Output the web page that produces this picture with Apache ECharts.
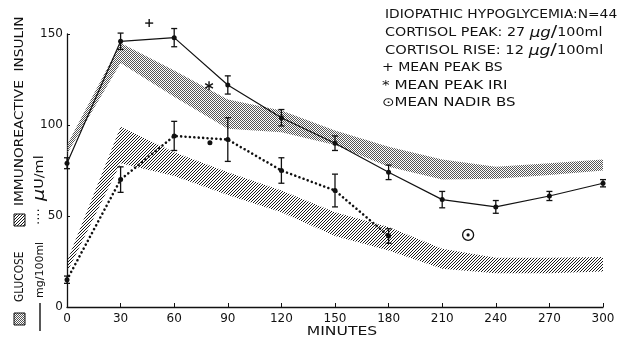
<!DOCTYPE html>
<html>
<head>
    <meta charset="utf-8">
    <title>Idiopathic hypoglycemia</title>
    <script src="https://cdn.jsdelivr.net/npm/echarts@6/dist/echarts.min.js"></script>
</head>
<body style="margin:0;background:#fff;">
    <div id="chart" style="width: 622px;height:341px;"></div>
    <script type="text/javascript">
        // minutes after glucose load
        var minutes = [0, 30, 60, 90, 120, 150, 180, 210, 240, 270, 300];
        var xTicks = ['0', '30', '60', '90', '120', '150', '180', '210', '240', '270', '300'];
        var yTicks = ['0', '50', '100', '150'];

        // glucose mg/100ml (solid line) and its normal range (stippled band)
        var glucoseMean = [79, 146, 148, 122, 104, 90, 74, 59, 55, 61, 68];
        var glucoseErr = [3, 4.5, 5, 5, 4.5, 4, 4, 4.5, 3.5, 2.5, 2];
        var glucoseBandLow = [84, 134, 115.5, 98, 96, 89, 77, 70, 70.5, 72.5, 75];
        var glucoseBandHigh = [89, 145, 130, 114, 108, 97, 88, 81, 77, 79, 81];

        // immunoreactive insulin µU/ml (dotted line) and its normal range (hatched band)
        var insulinMinutes = [0, 30, 60, 90, 120, 150, 180];
        var insulinMean = [15, 70, 94, 92, 75, 64, 39];
        var insulinErr = [2, 7, 8, 12, 7, 9, 4];
        var insulinBandLow = [19, 79, 72, 61.5, 52, 39, 31, 21, 18.5, 18.5, 19.5];
        var insulinBandHigh = [25, 99, 85, 74, 64, 52, 44, 32, 27, 27, 27.5];

        // special markers: + mean peak BS, * mean peak IRI, (.) mean nadir BS
        var markMinute = [46, 79.5, 224.5];
        var markValue = [156, 121.5, 39.6];
        var markKind = ['plus', 'star', 'nadir'];
        var strayDots = [[80, 90.3]];

        var ink = '#111';

        function makePattern(size, test, color) {
            var c = document.createElement('canvas');
            c.width = size; c.height = size;
            var ctx = c.getContext('2d');
            ctx.fillStyle = color;
            for (var i = 0; i < size; i++) {
                for (var j = 0; j < size; j++) {
                    if (test(i, j)) ctx.fillRect(i, j, 1, 1);
                }
            }
            return { image: c, repeat: 'repeat' };
        }
        var hatch = makePattern(3, function (i, j) { return (i + j) % 3 === 2; }, '#1a1a1a');
        var stipple = makePattern(2, function (i, j) { return (i + j) % 2 === 0; }, '#555');

        function pairs(xs, ys) {
            var out = [];
            for (var i = 0; i < ys.length; i++) out.push([xs[i], ys[i]]);
            return out;
        }
        function errRows(xs, ys, es) {
            var out = [];
            for (var i = 0; i < ys.length; i++) out.push([xs[i], ys[i] - es[i], ys[i] + es[i]]);
            return out;
        }

        function bandSeries(low, high, fill) {
            return {
                type: 'custom',
                z: 1,
                silent: true,
                data: [[0]],
                renderItem: function (params, api) {
                    var pts = [];
                    for (var i = 0; i < minutes.length; i++) pts.push(api.coord([minutes[i], high[i]]));
                    for (var k = minutes.length - 1; k >= 0; k--) pts.push(api.coord([minutes[k], low[k]]));
                    return { type: 'polygon', shape: { points: pts }, style: { fill: fill, stroke: null } };
                }
            };
        }

        function errorSeries(rows) {
            return {
                type: 'custom',
                z: 4,
                silent: true,
                data: rows,
                renderItem: function (params, api) {
                    var top = api.coord([api.value(0), api.value(2)]);
                    var bot = api.coord([api.value(0), api.value(1)]);
                    var st = { stroke: ink, lineWidth: 1.3 };
                    return {
                        type: 'group',
                        children: [
                            { type: 'line', shape: { x1: top[0], y1: top[1], x2: bot[0], y2: bot[1] }, style: st },
                            { type: 'line', shape: { x1: top[0] - 3, y1: top[1], x2: top[0] + 3, y2: top[1] }, style: st },
                            { type: 'line', shape: { x1: bot[0] - 3, y1: bot[1], x2: bot[0] + 3, y2: bot[1] }, style: st }
                        ]
                    };
                }
            };
        }

        var markRows = [];
        for (var m = 0; m < markMinute.length; m++) markRows.push([markMinute[m], markValue[m], m]);

        var muRich = {
            mu: { fontStyle: 'italic', fontSize: 14, fontFamily: 'DejaVu Sans' },
            sl: { fontSize: 16, fontFamily: 'DejaVu Sans' }
        };
        function note(x, y, text, sx) {
            return {
                type: 'text', x: x, y: y, scaleX: sx,
                style: { text: text, fill: ink, font: '12px DejaVu Sans', verticalAlign: 'middle', rich: muRich }
            };
        }
        function sideText(x, y, text, size, sx, rich) {
            return {
                type: 'text', x: x, y: y, rotation: Math.PI / 2, scaleX: sx,
                style: { text: text, fill: ink, font: size + 'px DejaVu Sans', align: 'left', verticalAlign: 'middle', rich: rich || {} }
            };
        }

        var chart = echarts.init(document.getElementById('chart'));
        var option = {
            backgroundColor: '#fff',
            animation: false,
            grid: { left: 67, right: 19, top: 34, bottom: 34 },
            xAxis: {
                type: 'value',
                min: 0, max: 300, interval: 30,
                axisLine: { lineStyle: { color: ink, width: 1.3 } },
                axisTick: { inside: true, length: 4, lineStyle: { color: ink } },
                splitLine: { show: false },
                axisLabel: {
                    color: ink, fontSize: 12, fontFamily: 'DejaVu Sans', margin: 6,
                    formatter: function (v) { return xTicks[minutes.indexOf(v)]; }
                }
            },
            yAxis: {
                type: 'value',
                min: 0, max: 150, interval: 50,
                axisLine: { show: true, lineStyle: { color: ink, width: 1.3 } },
                axisTick: { show: true, inside: true, length: 3, lineStyle: { color: ink } },
                splitLine: { show: false },
                axisLabel: {
                    color: ink, fontSize: 12, fontFamily: 'DejaVu Sans', margin: 4,
                    formatter: function (v) { return yTicks[v / 50]; }
                }
            },
            series: [
                bandSeries(glucoseBandLow, glucoseBandHigh, stipple),
                bandSeries(insulinBandLow, insulinBandHigh, hatch),
                {
                    name: 'GLUCOSE',
                    type: 'line',
                    z: 3,
                    data: pairs(minutes, glucoseMean),
                    symbol: 'circle', symbolSize: 5,
                    itemStyle: { color: ink },
                    lineStyle: { color: ink, width: 1.2 }
                },
                {
                    name: 'IMMUNOREACTIVE INSULIN',
                    type: 'line',
                    z: 3,
                    data: pairs(insulinMinutes, insulinMean),
                    symbol: 'circle', symbolSize: 5,
                    itemStyle: { color: ink },
                    lineStyle: { color: ink, width: 2.6, type: [0.01, 4.4], cap: 'round' }
                },
                errorSeries(errRows(minutes, glucoseMean, glucoseErr)),
                errorSeries(errRows(insulinMinutes, insulinMean, insulinErr)),
                {
                    type: 'scatter',
                    z: 3,
                    data: strayDots,
                    symbol: 'circle', symbolSize: 5,
                    itemStyle: { color: ink, opacity: 1 }
                },
                {
                    type: 'custom',
                    z: 5,
                    silent: true,
                    data: markRows,
                    renderItem: function (params, api) {
                        var p = api.coord([api.value(0), api.value(1)]);
                        var kind = markKind[api.value(2)];
                        var st = { stroke: ink, lineWidth: 1.4 };
                        var kids = [];
                        if (kind === 'plus') {
                            kids.push({ type: 'line', shape: { x1: p[0] - 4, y1: p[1], x2: p[0] + 4, y2: p[1] }, style: st });
                            kids.push({ type: 'line', shape: { x1: p[0], y1: p[1] - 4, x2: p[0], y2: p[1] + 4 }, style: st });
                        } else if (kind === 'star') {
                            for (var a = 0; a < 3; a++) {
                                var ang = Math.PI / 2 + a * Math.PI / 3;
                                var dx = Math.cos(ang) * 4.5, dy = Math.sin(ang) * 4.5;
                                kids.push({ type: 'line', shape: { x1: p[0] - dx, y1: p[1] - dy, x2: p[0] + dx, y2: p[1] + dy }, style: st });
                            }
                        } else {
                            kids.push({ type: 'circle', shape: { cx: p[0], cy: p[1], r: 5.5 }, style: { fill: '#fff', stroke: ink, lineWidth: 1.3 } });
                            kids.push({ type: 'circle', shape: { cx: p[0], cy: p[1], r: 1.6 }, style: { fill: ink } });
                        }
                        return { type: 'group', children: kids };
                    }
                }
            ],
            graphic: [
                // annotation block, upper right
                note(385, 15, 'IDIOPATHIC HYPOGLYCEMIA:N=44', 1.15),
                note(385, 33, 'CORTISOL PEAK: 27 {mu|μg}{sl|/}100ml', 1.19),
                note(385, 51, 'CORTISOL RISE: 12 {mu|μg}{sl|/}100ml', 1.22),
                note(382, 68, '+ MEAN PEAK BS', 1.17),
                note(382, 86, '* MEAN PEAK IRI', 1.27),
                note(382, 103, '⊙MEAN NADIR BS', 1.25),
                // x axis title
                { type: 'text', x: 342, y: 332, scaleX: 1.2, style: { text: 'MINUTES', fill: ink, font: '13px DejaVu Sans', align: 'center', verticalAlign: 'middle' } },
                // vertical axis titles, left side
                { type: 'rect', shape: { x: 14, y: 313, width: 11, height: 12 }, style: { fill: stipple, stroke: ink, lineWidth: 1 } },
                sideText(20, 302, 'GLUCOSE', 12, 0.88),
                { type: 'rect', shape: { x: 14, y: 214, width: 11, height: 12 }, style: { fill: hatch, stroke: ink, lineWidth: 1 } },
                sideText(20, 206, 'IMMUNOREACTIVE  INSULIN', 12, 1.14),
                { type: 'line', shape: { x1: 40, y1: 303, x2: 40, y2: 331 }, style: { stroke: ink, lineWidth: 1.4 } },
                sideText(40, 298, 'mg/100ml', 11, 1.0),
                sideText(40, 225, '····', 13, 1.0),
                sideText(40, 201, '{mu|μ}U/ml', 12, 1.2, { mu: { fontStyle: 'italic', fontSize: 16, fontFamily: 'DejaVu Sans' } })
            ]
        };
        chart.setOption(option);
    </script>
</body>
</html>
